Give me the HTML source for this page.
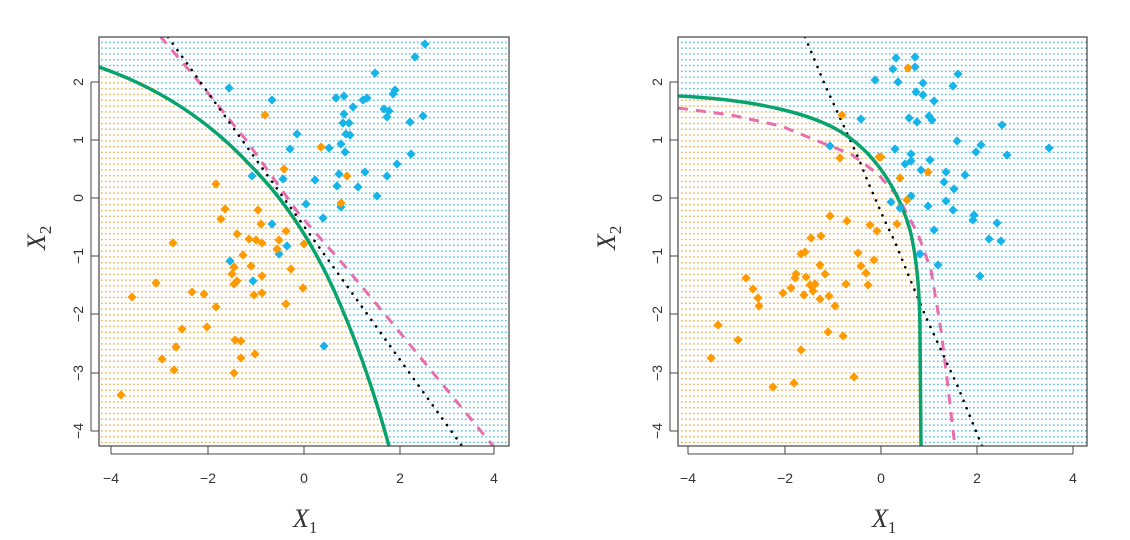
<!DOCTYPE html>
<html><head><meta charset="utf-8"><style>body{margin:0;background:#fff}svg{display:block}</style></head><body>
<svg width="1130" height="540" xmlns="http://www.w3.org/2000/svg" font-family="Liberation Sans, sans-serif">
<defs>
<pattern id="pb" width="4" height="5.8" patternUnits="userSpaceOnUse"><rect x="1" y="1" width="1.6" height="1.4" fill="#3cc6f2"/></pattern>
<pattern id="po" width="4" height="5.8" patternUnits="userSpaceOnUse"><rect x="1" y="1" width="1.6" height="1.4" fill="#ffad2a"/></pattern>
<clipPath id="cl"><polygon points="99,67 150,84 199,120 240,155 266,180 300,222 320,260 340,304 355,337 367,370 389,446 99,446"/></clipPath>
<clipPath id="cr"><polygon points="678,96 730,101 778,111 820,123 845,134 868,152 885,172 898,197 910,230 916,270 920,337 921,446 678,446"/></clipPath>
<clipPath id="bl"><rect x="99" y="37" width="410" height="409"/></clipPath>
<clipPath id="br"><rect x="678" y="37" width="409" height="409"/></clipPath>
<path id="d" d="M0,-4.6 L4.6,0 L0,4.6 L-4.6,0 Z"/>
</defs>
<rect x="99" y="37" width="410" height="409" fill="url(#pb)"/>
<rect x="99" y="37" width="410" height="409" fill="#fff" clip-path="url(#cl)"/>
<rect x="99" y="37" width="410" height="409" fill="url(#po)" clip-path="url(#cl)"/>
<g clip-path="url(#bl)" fill="none">
<polyline points="160,36 199,82 246,140 299,214 343,264 393,324 443,385 494,447" stroke="#e86fae" stroke-width="3" stroke-dasharray="10,8"/>
<path d="M168,37 L462,446" stroke="#000" stroke-width="2.6" stroke-dasharray="0.1,8" stroke-linecap="round"/>
<path d="M99,67 C160,88 210,122 250,165 C285,200 315,245 340,304 C360,350 375,395 389,446" stroke="#0aa36e" stroke-width="3.5"/>
</g>
<g fill="#17b4ea">
<use href="#d" x="229" y="88"/><use href="#d" x="272" y="100"/><use href="#d" x="297" y="134"/><use href="#d" x="290" y="149"/><use href="#d" x="252" y="176"/><use href="#d" x="283" y="179"/><use href="#d" x="306" y="204"/><use href="#d" x="272" y="224"/><use href="#d" x="287" y="246"/><use href="#d" x="279" y="254"/><use href="#d" x="230" y="261"/><use href="#d" x="253" y="281"/>
<use href="#d" x="425" y="44"/><use href="#d" x="415" y="57"/><use href="#d" x="375" y="73"/><use href="#d" x="395" y="90"/><use href="#d" x="393" y="94"/><use href="#d" x="336" y="98"/><use href="#d" x="344" y="96"/><use href="#d" x="363" y="100"/><use href="#d" x="367" y="98"/><use href="#d" x="353" y="107"/><use href="#d" x="384" y="109"/><use href="#d" x="389" y="111"/><use href="#d" x="387" y="117"/><use href="#d" x="344" y="114"/><use href="#d" x="343" y="123"/><use href="#d" x="349" y="123"/><use href="#d" x="410" y="122"/><use href="#d" x="423" y="116"/><use href="#d" x="346" y="134"/><use href="#d" x="350" y="135"/><use href="#d" x="341" y="144"/><use href="#d" x="329" y="148"/><use href="#d" x="345" y="152"/><use href="#d" x="411" y="154"/><use href="#d" x="397" y="164"/><use href="#d" x="365" y="172"/><use href="#d" x="339" y="174"/><use href="#d" x="387" y="176"/><use href="#d" x="315" y="180"/><use href="#d" x="337" y="186"/><use href="#d" x="358" y="187"/><use href="#d" x="377" y="196"/><use href="#d" x="341" y="207"/><use href="#d" x="323" y="218"/><use href="#d" x="324" y="346"/>
</g>
<g fill="#ff9a00">
<use href="#d" x="265" y="115"/><use href="#d" x="284" y="169"/><use href="#d" x="216" y="184"/><use href="#d" x="225" y="209"/><use href="#d" x="221" y="219"/><use href="#d" x="258" y="210"/><use href="#d" x="261" y="224"/><use href="#d" x="286" y="231"/><use href="#d" x="237" y="234"/><use href="#d" x="249" y="239"/><use href="#d" x="256" y="240"/><use href="#d" x="262" y="243"/><use href="#d" x="279" y="240"/><use href="#d" x="277" y="249"/><use href="#d" x="304" y="244"/><use href="#d" x="173" y="243"/><use href="#d" x="243" y="255"/><use href="#d" x="251" y="266"/><use href="#d" x="234" y="267"/><use href="#d" x="291" y="269"/><use href="#d" x="232" y="274"/><use href="#d" x="237" y="281"/><use href="#d" x="262" y="276"/><use href="#d" x="234" y="284"/><use href="#d" x="156" y="283"/><use href="#d" x="132" y="297"/><use href="#d" x="192" y="292"/><use href="#d" x="204" y="294"/><use href="#d" x="254" y="295"/><use href="#d" x="262" y="293"/><use href="#d" x="303" y="288"/><use href="#d" x="216" y="307"/><use href="#d" x="286" y="304"/><use href="#d" x="182" y="329"/><use href="#d" x="207" y="327"/><use href="#d" x="235" y="340"/><use href="#d" x="241" y="341"/><use href="#d" x="176" y="347"/><use href="#d" x="162" y="359"/><use href="#d" x="241" y="358"/><use href="#d" x="255" y="354"/><use href="#d" x="174" y="370"/><use href="#d" x="234" y="373"/><use href="#d" x="121" y="395"/>
<use href="#d" x="321" y="147"/><use href="#d" x="347" y="176"/><use href="#d" x="341" y="203"/>
</g>
<rect x="99" y="37" width="410" height="409" fill="none" stroke="#444" stroke-width="1.2"/>
<g stroke="#444" stroke-width="1">
<path d="M111,446V454M208,446V454M304,446V454M400,446V454M494,446V454M111,454H494"/>
<path d="M99,82H91M99,140H91M99,198H91M99,256H91M99,314H91M99,373H91M99,431H91M91,82V431"/>
</g>
<g font-size="14" fill="#333" text-anchor="middle">
<text x="111" y="483">−4</text><text x="208" y="483">−2</text><text x="304" y="483">0</text><text x="400" y="483">2</text><text x="494" y="483">4</text>
<g transform="translate(83,0)">
<text transform="translate(0,82) rotate(-90)">2</text><text transform="translate(0,140) rotate(-90)">1</text><text transform="translate(0,198) rotate(-90)">0</text><text transform="translate(0,256) rotate(-90)">−1</text><text transform="translate(0,314) rotate(-90)">−2</text><text transform="translate(0,373) rotate(-90)">−3</text><text transform="translate(0,431) rotate(-90)">−4</text>
</g></g>
<g font-family="Liberation Serif, serif" font-style="italic" font-size="26" fill="#333">
<text x="293" y="527">X<tspan font-size="17" dy="6" font-style="normal">1</tspan></text>
<text transform="translate(45,250) rotate(-90)">X<tspan font-size="17" dy="6" font-style="normal">2</tspan></text>
<text x="872" y="527">X<tspan font-size="17" dy="6" font-style="normal">1</tspan></text>
<text transform="translate(615,250) rotate(-90)">X<tspan font-size="17" dy="6" font-style="normal">2</tspan></text>
</g>
<rect x="678" y="37" width="409" height="409" fill="url(#pb)"/>
<rect x="678" y="37" width="409" height="409" fill="#fff" clip-path="url(#cr)"/>
<rect x="678" y="37" width="409" height="409" fill="url(#po)" clip-path="url(#cr)"/>
<g clip-path="url(#br)" fill="none">
<polyline points="678,108 731,115 781,126 825,144 851,154 878,174 898,197 918,234 931,270 941,330 948,387 955,447" stroke="#e86fae" stroke-width="3" stroke-dasharray="10,8"/>
<polyline points="805,37 825,85 841,120 858,157 868,182 884,219 895,242 910,279 925,315 941,350 958,387 982,446" stroke="#000" stroke-width="2.6" stroke-dasharray="0.1,8" stroke-linecap="round"/>
<path d="M678,96 C760,100 820,115 850,138 C880,160 900,195 910,230 C918,262 920,300 920,337 L921,446" stroke="#0aa36e" stroke-width="3.5"/>
</g>
<g fill="#17b4ea">
<use href="#d" x="875" y="80"/><use href="#d" x="861" y="119"/><use href="#d" x="830" y="146"/>
<use href="#d" x="896" y="58"/><use href="#d" x="915" y="57"/><use href="#d" x="893" y="69"/><use href="#d" x="915" y="67"/><use href="#d" x="958" y="74"/><use href="#d" x="953" y="86"/><use href="#d" x="898" y="82"/><use href="#d" x="923" y="83"/><use href="#d" x="916" y="92"/><use href="#d" x="923" y="95"/><use href="#d" x="934" y="101"/><use href="#d" x="909" y="118"/><use href="#d" x="917" y="122"/><use href="#d" x="929" y="116"/><use href="#d" x="932" y="120"/><use href="#d" x="1002" y="125"/><use href="#d" x="957" y="141"/><use href="#d" x="981" y="145"/><use href="#d" x="976" y="152"/><use href="#d" x="1007" y="155"/><use href="#d" x="1049" y="148"/><use href="#d" x="895" y="149"/><use href="#d" x="911" y="154"/><use href="#d" x="905" y="164"/><use href="#d" x="911" y="161"/><use href="#d" x="930" y="160"/><use href="#d" x="921" y="170"/><use href="#d" x="946" y="172"/><use href="#d" x="965" y="175"/><use href="#d" x="944" y="182"/><use href="#d" x="954" y="189"/><use href="#d" x="911" y="196"/><use href="#d" x="891" y="202"/><use href="#d" x="900" y="208"/><use href="#d" x="928" y="206"/><use href="#d" x="946" y="201"/><use href="#d" x="953" y="210"/><use href="#d" x="974" y="215"/><use href="#d" x="973" y="220"/><use href="#d" x="997" y="223"/><use href="#d" x="989" y="239"/><use href="#d" x="1001" y="241"/><use href="#d" x="934" y="230"/><use href="#d" x="920" y="254"/><use href="#d" x="938" y="265"/><use href="#d" x="980" y="276"/>
</g>
<g fill="#ff9a00">
<use href="#d" x="842" y="115"/><use href="#d" x="840" y="158"/><use href="#d" x="879" y="157"/><use href="#d" x="830" y="216"/><use href="#d" x="847" y="221"/><use href="#d" x="870" y="225"/><use href="#d" x="877" y="231"/><use href="#d" x="811" y="238"/><use href="#d" x="821" y="236"/><use href="#d" x="801" y="254"/><use href="#d" x="805" y="252"/><use href="#d" x="858" y="253"/><use href="#d" x="874" y="260"/><use href="#d" x="820" y="265"/><use href="#d" x="861" y="266"/><use href="#d" x="866" y="273"/><use href="#d" x="746" y="278"/><use href="#d" x="796" y="274"/><use href="#d" x="795" y="278"/><use href="#d" x="806" y="277"/><use href="#d" x="825" y="274"/><use href="#d" x="753" y="289"/><use href="#d" x="791" y="288"/><use href="#d" x="783" y="293"/><use href="#d" x="810" y="285"/><use href="#d" x="815" y="284"/><use href="#d" x="813" y="291"/><use href="#d" x="804" y="295"/><use href="#d" x="846" y="284"/><use href="#d" x="868" y="285"/><use href="#d" x="758" y="298"/><use href="#d" x="759" y="306"/><use href="#d" x="820" y="299"/><use href="#d" x="829" y="296"/><use href="#d" x="835" y="306"/><use href="#d" x="718" y="325"/><use href="#d" x="738" y="340"/><use href="#d" x="828" y="332"/><use href="#d" x="843" y="336"/><use href="#d" x="801" y="350"/><use href="#d" x="711" y="358"/><use href="#d" x="854" y="377"/><use href="#d" x="773" y="387"/><use href="#d" x="794" y="383"/>
<use href="#d" x="908" y="68"/><use href="#d" x="881" y="157"/><use href="#d" x="928" y="172"/><use href="#d" x="900" y="178"/><use href="#d" x="907" y="200"/><use href="#d" x="897" y="224"/>
</g>
<rect x="678" y="37" width="409" height="409" fill="none" stroke="#444" stroke-width="1.2"/>
<g stroke="#444" stroke-width="1">
<path d="M688,446V454M785,446V454M881,446V454M977,446V454M1073,446V454M688,454H1073"/>
<path d="M678,82H670M678,140H670M678,198H670M678,256H670M678,314H670M678,373H670M678,431H670M670,82V431"/>
</g>
<g font-size="14" fill="#333" text-anchor="middle">
<text x="688" y="483">−4</text><text x="785" y="483">−2</text><text x="881" y="483">0</text><text x="977" y="483">2</text><text x="1073" y="483">4</text>
<g transform="translate(662,0)">
<text transform="translate(0,82) rotate(-90)">2</text><text transform="translate(0,140) rotate(-90)">1</text><text transform="translate(0,198) rotate(-90)">0</text><text transform="translate(0,256) rotate(-90)">−1</text><text transform="translate(0,314) rotate(-90)">−2</text><text transform="translate(0,373) rotate(-90)">−3</text><text transform="translate(0,431) rotate(-90)">−4</text>
</g></g>
</svg>
</body></html>
